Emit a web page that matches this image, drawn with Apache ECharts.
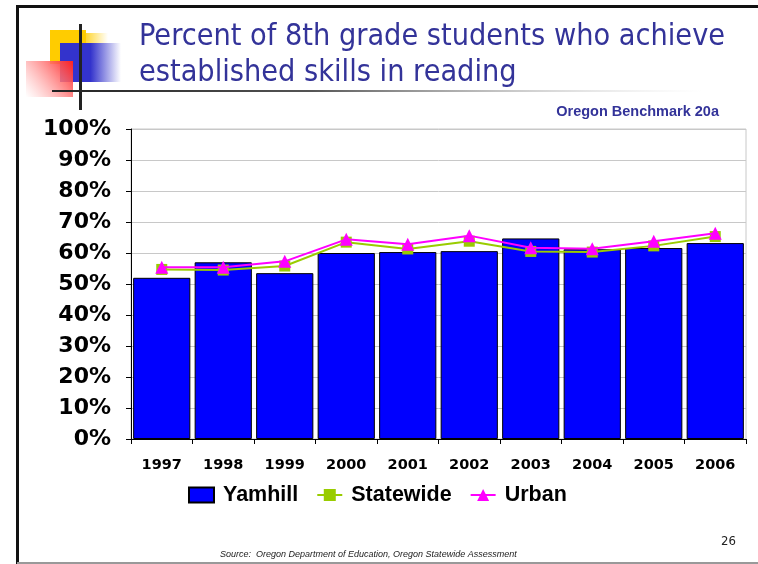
<!DOCTYPE html>
<html>
<head>
<meta charset="utf-8">
<script src="https://cdn.jsdelivr.net/npm/echarts@6/dist/echarts.min.js"></script>
<style>
  html, body { margin: 0; padding: 0; background: #fff; }
  #chart { width: 758px; height: 564px; }
</style>
</head>
<body>
<div id="chart"></div>
<script>
const years = ["1997", "1998", "1999", "2000", "2001", "2002", "2003", "2004", "2005", "2006"];
const yamhill = [52, 57, 53.5, 60, 60.3, 60.6, 64.7, 61.2, 61.6, 63.2];
const statewide = [54.7, 54.5, 55.8, 63.5, 61.3, 63.8, 60.5, 60.3, 62.3, 65.3];
const urban = [55.4, 55.4, 57.3, 64.4, 62.8, 65.6, 61.7, 61.4, 63.8, 66.4];

const chart = echarts.init(document.getElementById("chart"));

// slide decoration (frame, coloured squares, rules)
const deco = [
  { type: "rect", shape: { x: 17, y: 5, width: 741, height: 3 }, style: { fill: "#111" } },
  { type: "rect", shape: { x: 16, y: 5, width: 3, height: 559 }, style: { fill: "#111" } },
  { type: "rect", shape: { x: 17, y: 562, width: 741, height: 2 }, style: { fill: "#999" } },
  { type: "rect", shape: { x: 50, y: 30, width: 36, height: 34 }, style: { fill: "#FFCC00" } },
  {
    type: "rect", shape: { x: 86, y: 33, width: 22, height: 10 },
    style: { fill: new echarts.graphic.LinearGradient(0, 0, 1, 0, [{ offset: 0, color: "rgba(255,204,0,0.8)" }, { offset: 1, color: "rgba(255,204,0,0)" }]) }
  },
  {
    type: "rect", shape: { x: 60, y: 43, width: 61, height: 39 },
    style: { fill: new echarts.graphic.LinearGradient(0, 0, 1, 0, [{ offset: 0, color: "#3333CC" }, { offset: 0.5, color: "#3333CC" }, { offset: 1, color: "rgba(51,51,204,0)" }]) }
  },
  {
    type: "rect", shape: { x: 26, y: 61, width: 47, height: 36 },
    style: { fill: new echarts.graphic.LinearGradient(1, 0, 0, 1, [{ offset: 0, color: "#FF2020" }, { offset: 1, color: "rgba(255,255,255,0.6)" }]) }
  },
  { type: "rect", shape: { x: 79, y: 24, width: 3, height: 86 }, style: { fill: "#222" } },
  {
    type: "rect", shape: { x: 52, y: 90, width: 650, height: 2 },
    style: { fill: new echarts.graphic.LinearGradient(0, 0, 1, 0, [{ offset: 0, color: "#222" }, { offset: 0.4, color: "#555" }, { offset: 1, color: "rgba(200,200,200,0)" }]) }
  },
  {
    type: "text", right: 39, top: 104,
    style: { text: "Oregon Benchmark 20a", fill: "#333399", font: 'bold 14.5px "Liberation Sans"' }
  },
  {
    type: "text", left: 721, top: 535,
    style: { text: "26", fill: "#222", font: '13px "DejaVu Sans Condensed"' }
  },
  {
    type: "text", left: 220, top: 550,
    style: { text: "Source:  Oregon Department of Education, Oregon Statewide Assessment", fill: "#222", font: 'italic 9px "Liberation Sans"' }
  }
];

const option = {
  animation: false,
  backgroundColor: "#fff",
  title: {
    text: "Percent of 8th grade students who achieve\nestablished skills in reading",
    left: 134, top: 14,
    textStyle: { color: "#333399", fontWeight: "normal", fontSize: 30.3, lineHeight: 36, fontFamily: "DejaVu Sans Condensed" }
  },
  graphic: deco,
  legend: {
    left: 183, top: 479,
    itemGap: 18,
    itemWidth: 25, itemHeight: 15,
    textStyle: { fontFamily: "Liberation Sans", fontWeight: "bold", fontSize: 21.5, color: "#000", padding: [0, 0, 0, 4] },
    data: [
      { name: "Yamhill", icon: "rect" },
      { name: "Statewide" },
      { name: "Urban" }
    ]
  },
  grid: { left: 131, right: 12, top: 129, bottom: 125, show: true, borderColor: "#C8C8C8", borderWidth: 1 },
  xAxis: {
    type: "category",
    data: years,
    axisLine: { lineStyle: { color: "#000", width: 1 } },
    axisTick: { show: true, length: 5, lineStyle: { color: "#000" } },
    axisLabel: { margin: 19, color: "#000", fontFamily: "DejaVu Sans", fontWeight: "bold", fontSize: 14.5 }
  },
  yAxis: {
    type: "value",
    min: 0, max: 100, interval: 10,
    axisLine: { show: true, lineStyle: { color: "#000", width: 1 } },
    axisTick: { show: true, length: 5, lineStyle: { color: "#000" } },
    splitLine: { lineStyle: { color: "#C8C8C8" } },
    axisLabel: { formatter: "{value}%", margin: 20, color: "#000", fontFamily: "DejaVu Sans", fontWeight: "bold", fontSize: 22 }
  },
  series: [
    {
      name: "Yamhill",
      type: "bar",
      data: yamhill,
      barCategoryGap: "7%",
      itemStyle: { color: "#0000FF", borderColor: "#000", borderWidth: 1 }
    },
    {
      name: "Statewide",
      type: "line",
      data: statewide,
      z: 3,
      symbol: "rect", symbolSize: 11,
      lineStyle: { color: "#99CC00", width: 2 },
      itemStyle: { color: "#99CC00" }
    },
    {
      name: "Urban",
      type: "line",
      data: urban,
      z: 4,
      symbol: "triangle", symbolSize: 13,
      lineStyle: { color: "#FF00FF", width: 2 },
      itemStyle: { color: "#FF00FF" }
    }
  ]
};

chart.setOption(option);
</script>
</body>
</html>
